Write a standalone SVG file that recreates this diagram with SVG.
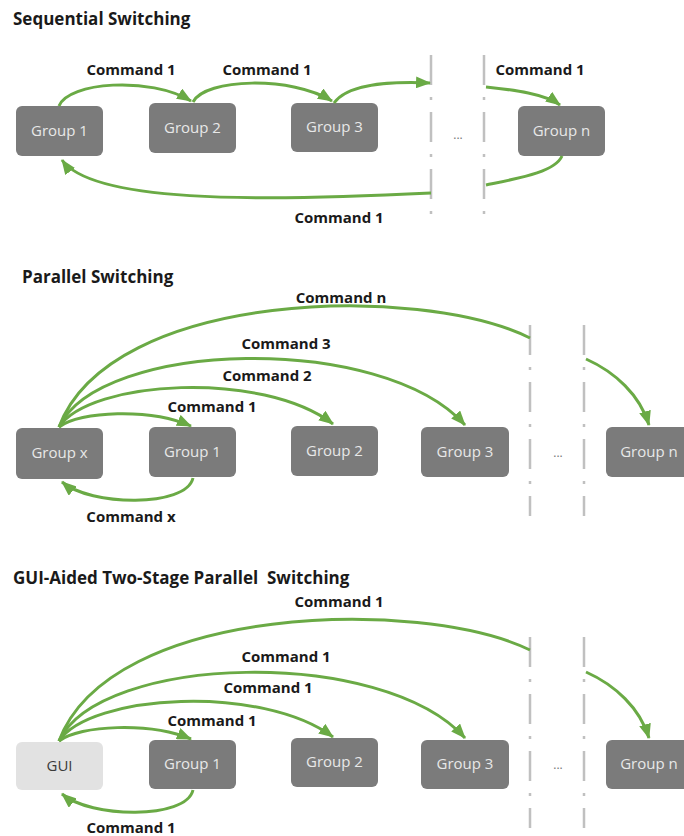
<svg xmlns="http://www.w3.org/2000/svg" width="684" height="836" viewBox="0 0 684 836">
<defs>
<marker id="ah" markerUnits="userSpaceOnUse" markerWidth="16" markerHeight="12" refX="14" refY="6" orient="auto">
<path d="M0,0 L15,6 L0,12 z" fill="#6aaa45"/>
</marker>
<style>
.title{font-family:"Open Sans","Liberation Sans",sans-serif;font-weight:700;font-size:17px;fill:#1a1a1a}
.lbl{font-family:"Open Sans","Liberation Sans",sans-serif;font-weight:700;font-size:15px;fill:#1a1a1a;text-anchor:middle}
.box{fill:#7b7b7b}
.gui{fill:#e2e2e2}
.bt{font-family:"Open Sans","Liberation Sans",sans-serif;font-size:15px;fill:#e8e8e8;text-anchor:middle}
.gt{font-family:"Open Sans","Liberation Sans",sans-serif;font-size:15px;fill:#3a3a3a;text-anchor:middle}
.dots{font-family:"Open Sans","Liberation Sans",sans-serif;font-size:12px;fill:#777;text-anchor:middle}
.c{fill:none;stroke:#6aaa45;stroke-width:3}
.ca{fill:none;stroke:#6aaa45;stroke-width:3;marker-end:url(#ah)}
.dash{stroke:#c0c0c0;stroke-width:2.5;stroke-dasharray:30 12 3 12;fill:none}
</style>
</defs>
<rect width="684" height="836" fill="#ffffff"/>

<!-- Section 1 -->
<text class="title" x="13" y="25">Sequential Switching</text>
<g id="s1-dividers">
<line class="dash" x1="431" y1="55" x2="431" y2="222"/>
<line class="dash" x1="484" y1="55" x2="484" y2="222"/>
<text class="dots" x="458" y="139">...</text>
</g>
<g id="s1-group1"><rect class="box" x="16" y="106" width="87" height="50" rx="6"/><text class="bt" x="59.5" y="136">Group 1</text></g>
<g id="s1-group2"><rect class="box" x="149" y="103" width="87" height="50" rx="6"/><text class="bt" x="192.5" y="133">Group 2</text></g>
<g id="s1-group3"><rect class="box" x="291" y="103" width="87" height="49" rx="6"/><text class="bt" x="334.5" y="132">Group 3</text></g>
<g id="s1-groupn"><rect class="box" x="518" y="106" width="87" height="50" rx="6"/><text class="bt" x="561.5" y="136">Group n</text></g>
<g id="s1-connectors">
<path class="ca" d="M59 106 C68 82, 150 76, 191 101"/>
<path class="ca" d="M193 102 C205 78, 292 76, 332 101"/>
<path class="ca" d="M334 103 C346 86, 380 81, 430 83"/>
<path class="ca" d="M486 87 C515 90, 545 94, 560 105"/>
<path class="c" d="M562 156 C555 172, 520 178, 486 185"/>
<path class="ca" d="M431 193 C250 202, 92 202, 62 160"/>
<text class="lbl" x="131" y="75">Command 1</text>
<text class="lbl" x="267" y="75">Command 1</text>
<text class="lbl" x="540" y="75">Command 1</text>
<text class="lbl" x="339" y="223">Command 1</text>
</g>

<!-- Section 2 -->
<text class="title" x="22" y="283">Parallel Switching</text>
<g id="s2-dividers">
<line class="dash" x1="530" y1="325" x2="530" y2="516"/>
<line class="dash" x1="584" y1="325" x2="584" y2="516"/>
<text class="dots" x="558" y="457">...</text>
</g>
<g id="s2-groupx"><rect class="box" x="16" y="428" width="87" height="51" rx="6"/><text class="bt" x="59.5" y="458">Group x</text></g>
<g id="s2-group1"><rect class="box" x="149" y="427" width="87" height="50" rx="6"/><text class="bt" x="192.5" y="457">Group 1</text></g>
<g id="s2-group2"><rect class="box" x="291" y="426" width="87" height="50" rx="6"/><text class="bt" x="334.5" y="456">Group 2</text></g>
<g id="s2-group3"><rect class="box" x="421" y="427" width="88" height="50" rx="6"/><text class="bt" x="465" y="457">Group 3</text></g>
<g id="s2-groupn"><rect class="box" x="606" y="427" width="88" height="50" rx="6"/><text class="bt" x="649" y="457">Group n</text></g>
<g id="s2-connectors">
<path class="ca" d="M59 427 C80 411, 150 408, 191 426"/>
<path class="ca" d="M59 427 C90 380, 262 370, 333 424"/>
<path class="ca" d="M59 427 C100 340, 382 332, 465 425"/>
<path class="c" d="M59 427 C110 290, 420 283, 530 338"/>
<path class="ca" d="M586 359 C615 372, 640 395, 649 425"/>
<path class="ca" d="M193 478 C186 508, 90 506, 62 482"/>
<text class="lbl" x="341" y="303">Command n</text>
<text class="lbl" x="286" y="349">Command 3</text>
<text class="lbl" x="267" y="381">Command 2</text>
<text class="lbl" x="212" y="412">Command 1</text>
<text class="lbl" x="131" y="522">Command x</text>
</g>

<!-- Section 3 -->
<text class="title" x="13" y="584" xml:space="preserve">GUI-Aided Two-Stage Parallel  Switching</text>
<g id="s3-dividers">
<line class="dash" x1="530" y1="637" x2="530" y2="828"/>
<line class="dash" x1="584" y1="637" x2="584" y2="828"/>
<text class="dots" x="558" y="769">...</text>
</g>
<g id="s3-gui"><rect class="gui" x="16" y="742" width="87" height="48" rx="6"/><text class="gt" x="59.5" y="771">GUI</text></g>
<g id="s3-group1"><rect class="box" x="149" y="740" width="87" height="49" rx="6"/><text class="bt" x="192.5" y="769">Group 1</text></g>
<g id="s3-group2"><rect class="box" x="291" y="738" width="87" height="49" rx="6"/><text class="bt" x="334.5" y="767">Group 2</text></g>
<g id="s3-group3"><rect class="box" x="421" y="740" width="88" height="49" rx="6"/><text class="bt" x="465" y="769">Group 3</text></g>
<g id="s3-groupn"><rect class="box" x="606" y="740" width="88" height="49" rx="6"/><text class="bt" x="649" y="769">Group n</text></g>
<g id="s3-connectors">
<path class="ca" d="M59 741 C80 725, 150 722, 191 739"/>
<path class="ca" d="M59 741 C90 694, 262 684, 333 737"/>
<path class="ca" d="M59 741 C100 654, 382 646, 465 738"/>
<path class="c" d="M59 741 C110 604, 420 597, 530 650"/>
<path class="ca" d="M586 672 C615 685, 640 708, 649 738"/>
<path class="ca" d="M193 790 C186 820, 90 818, 62 794"/>
<text class="lbl" x="339" y="607">Command 1</text>
<text class="lbl" x="286" y="662">Command 1</text>
<text class="lbl" x="268" y="693">Command 1</text>
<text class="lbl" x="212" y="726">Command 1</text>
<text class="lbl" x="131" y="833">Command 1</text>
</g>
</svg>
